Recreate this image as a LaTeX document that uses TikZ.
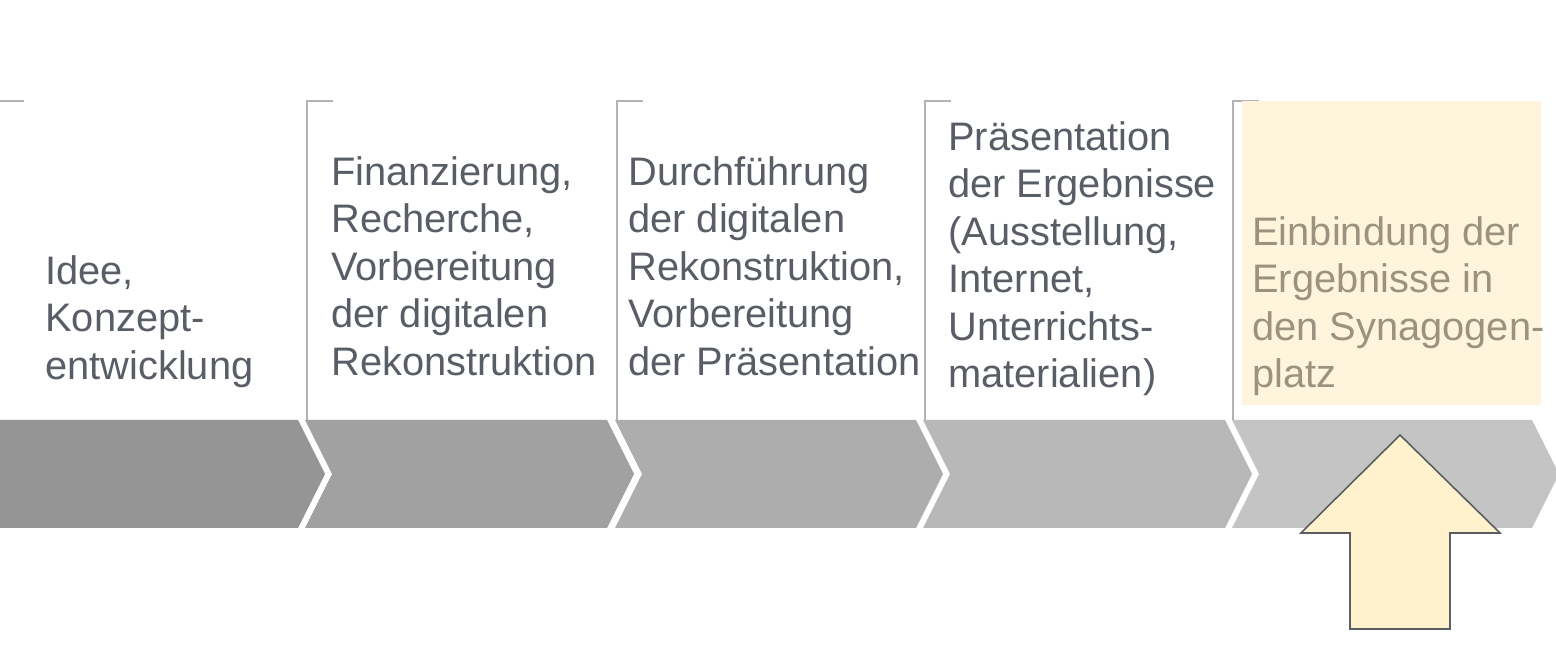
\documentclass[tikz,border=0pt]{standalone}
\usepackage{fontspec}
\setmainfont{Liberation Sans}
\newcommand{\topstrut}{\rule{0pt}{16pt}}
\definecolor{txtgray}{HTML}{585D66}
\definecolor{txtolive}{HTML}{9A9380}
\definecolor{brk}{HTML}{B3B3B3}
\definecolor{cA}{HTML}{959595}
\definecolor{cB}{HTML}{A1A1A1}
\definecolor{cC}{HTML}{ADADAD}
\definecolor{cD}{HTML}{B8B8B8}
\definecolor{cE}{HTML}{C4C4C4}
\definecolor{ybox}{HTML}{FFF5DD}
\definecolor{yarrow}{HTML}{FFF2CC}
\definecolor{arrline}{HTML}{5A5E63}
\begin{document}
\begin{tikzpicture}[x=0.5pt,y=-0.5pt,
  txt/.style={anchor=north west, inner sep=0pt, align=left, text=txtgray,
    font=\fontsize{19.9}{23.75}\selectfont},
  brkline/.style={draw=brk, line width=1pt}]
\useasboundingbox (0,0) rectangle (1556,672);
\fill[white] (0,0) rectangle (1556,672);
% chevrons
\fill[cA] (0,420) -- (298,420) -- (325,474) -- (298,528) -- (0,528) -- cycle;
\fill[cB] (305,420) -- (607,420) -- (634,474) -- (607,528) -- (305,528) -- (332,474) -- cycle;
\fill[cC] (615,420) -- (916,420) -- (943,474) -- (916,528) -- (615,528) -- (642,474) -- cycle;
\fill[cD] (923,420) -- (1225,420) -- (1252,474) -- (1225,528) -- (923,528) -- (950,474) -- cycle;
\fill[cE] (1232,420) -- (1532,420) -- (1559,474) -- (1532,528) -- (1232,528) -- (1259,474) -- cycle;
% brackets
\draw[brkline] (0,101) -- (24,101);
\draw[brkline] (333,101) -- (307,101) -- (307,420);
\draw[brkline] (643,101) -- (617,101) -- (617,420);
\draw[brkline] (951,101) -- (925,101) -- (925,420);
\draw[brkline] (1259,101) -- (1233,101) -- (1233,420);
% yellow box
\fill[ybox] (1242,101) rectangle (1541,405);
% texts
\node[txt] (t1) at (45,252) {\topstrut Idee,\\Konzept-\\entwicklung};
\node[txt] (t2) at (331,153) {\topstrut Finanzierung,\\Recherche,\\Vorbereitung\\der digitalen\\Rekonstruktion};
\node[txt] (t3) at (628,153) {\topstrut Durchführung\\der digitalen\\Rekonstruktion,\\Vorbereitung\\der Präsentation};
\node[txt] (t4) at (948,118) {\topstrut Präsentation\\der Ergebnisse\\(Ausstellung,\\Internet,\\Unterrichts-\\materialien)};
\node[txt, text=txtolive] (t5) at (1252,213) {\topstrut Einbindung der\\Ergebnisse in\\den Synagogen-\\platz};
% up arrow
\draw[fill=yarrow, draw=arrline, line width=0.8pt, line join=miter]
  (1400,435) -- (1500,533) -- (1450,533) -- (1450,629) -- (1350,629) -- (1350,533) -- (1301,533) -- cycle;
\end{tikzpicture}
\end{document}
